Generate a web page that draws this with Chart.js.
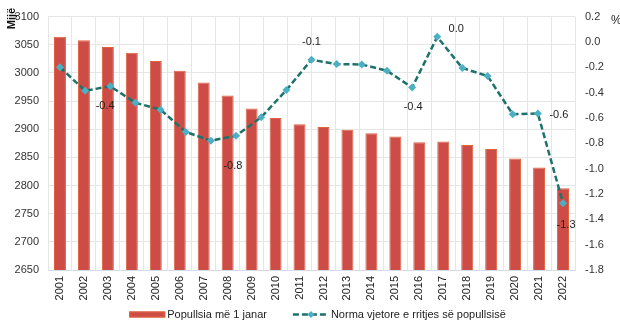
<!DOCTYPE html>
<html>
<head>
<meta charset="utf-8">
<script src="https://cdn.jsdelivr.net/npm/chart.js@4/dist/chart.umd.min.js"></script>
<style>
  html, body { margin: 0; padding: 0; background: #ffffff; }
  #wrap { width: 620px; height: 328px; }
</style>
</head>
<body>
<div id="wrap"><canvas id="c" width="620" height="328"></canvas></div>
<script>
// Population on 1 January (thousands), 2001–2022
const years = ['2001','2002','2003','2004','2005','2006','2007','2008','2009','2010','2011',
               '2012','2013','2014','2015','2016','2017','2018','2019','2020','2021','2022'];
const population = [3064, 3058, 3046, 3036, 3021, 3004, 2983, 2960, 2937, 2920, 2909,
                    2904, 2899, 2893, 2887, 2877, 2878, 2872, 2865, 2848, 2832, 2795];

// Annual growth rate of the population (%), 21 yearly changes
const growthRate = [-0.20, -0.385, -0.35, -0.48, -0.535, -0.71, -0.78, -0.74, -0.595, -0.38, -0.14,
                    -0.175, -0.178, -0.227, -0.36, 0.04, -0.206, -0.269, -0.57, -0.565, -1.273];

// Which growth points carry a value label
const labelledPoints = [1, 6, 10, 14, 15, 19, 20];

const leftTicks = { min: 2650, max: 3100, step: 50 };
const rightTicks = { min: -1.8, max: 0.2, step: 0.2 };

const barName = 'Popullsia më 1 janar';
const lineName = 'Norma vjetore e rritjes së popullsisë';

// label offsets from their point (px), in the same order as labelledPoints
const labelOffsets = [[20, 15], [22, 25], [0, -18], [1, 19], [19, -8], [21, 1], [3, 22]];

const FONT = '"Liberation Sans", Arial, sans-serif';
const BAR_FILL = '#cd4d46';
const BAR_EDGE = '#e3603f';
const LINE_COL = '#1d726b';
const MARK_COL = '#4cb0c5';
const GRID = '#e6e6e6';

// hidden linear x scale so the first and last growth points sit on the first and last bars
const n = growthRate.length;
const span = (n - 1) * population.length / (population.length - 1);
const edge = (span - (n - 1)) / 2;

const growthPoints = growthRate.map((v, i) => ({ x: i, y: v }));

const valueLabels = {
  id: 'valueLabels',
  afterDatasetsDraw(chart) {
    const meta = chart.getDatasetMeta(1);
    const ctx = chart.ctx;
    ctx.save();
    ctx.font = '11px ' + FONT;
    ctx.fillStyle = '#222222';
    ctx.textAlign = 'center';
    ctx.textBaseline = 'middle';
    labelledPoints.forEach((idx, k) => {
      const p = meta.data[idx];
      const [dx, dy] = labelOffsets[k];
      ctx.fillText(growthRate[idx].toFixed(1), p.x + dx, p.y + dy);
    });
    ctx.restore();
  }
};

const axisTitles = {
  id: 'axisTitles',
  afterDraw(chart) {
    const ctx = chart.ctx;
    ctx.save();
    ctx.fillStyle = '#111111';
    ctx.font = 'bold 11px ' + FONT;
    ctx.translate(11.5, 18.5);
    ctx.rotate(-Math.PI / 2);
    ctx.textAlign = 'center';
    ctx.textBaseline = 'middle';
    ctx.fillText('Mijë', 0, 0);
    ctx.restore();

    ctx.save();
    ctx.fillStyle = '#222222';
    ctx.font = '12px ' + FONT;
    ctx.textAlign = 'left';
    ctx.textBaseline = 'middle';
    ctx.fillText('%', chart.chartArea.right + 36, 21);
    ctx.restore();
  }
};

const bottomLegend = {
  id: 'bottomLegend',
  afterDraw(chart) {
    const ctx = chart.ctx;
    ctx.save();
    ctx.font = '11px ' + FONT;
    const w1 = ctx.measureText(barName).width;
    const w2 = ctx.measureText(lineName).width;
    const sw = 36, gap = 2, between = 26;
    const total = sw + gap + w1 + between + sw + gap + w2;
    const area = chart.chartArea;
    let x = (area.left + area.right) / 2 + 6 - total / 2;
    const y = 314.5;

    ctx.fillStyle = BAR_FILL;
    ctx.fillRect(x, y - 3, sw, 6);
    ctx.strokeStyle = BAR_EDGE;
    ctx.lineWidth = 1;
    ctx.strokeRect(x + 0.5, y - 2.5, sw - 1, 5);
    x += sw + gap;
    ctx.fillStyle = '#222222';
    ctx.textBaseline = 'middle';
    ctx.textAlign = 'left';
    ctx.fillText(barName, x, y);
    x += w1 + between;

    ctx.strokeStyle = LINE_COL;
    ctx.lineWidth = 2.5;
    ctx.setLineDash([6, 3]);
    ctx.beginPath();
    ctx.moveTo(x, y);
    ctx.lineTo(x + sw, y);
    ctx.stroke();
    ctx.setLineDash([]);
    const cx = x + sw / 2;
    ctx.fillStyle = MARK_COL;
    ctx.beginPath();
    ctx.moveTo(cx, y - 3.5);
    ctx.lineTo(cx + 3.5, y);
    ctx.lineTo(cx, y + 3.5);
    ctx.lineTo(cx - 3.5, y);
    ctx.closePath();
    ctx.fill();
    x += sw + gap;
    ctx.fillStyle = '#222222';
    ctx.fillText(lineName, x, y);
    ctx.restore();
  }
};

new Chart(document.getElementById('c'), {
  data: {
    labels: years,
    datasets: [
      {
        type: 'bar',
        label: barName,
        data: population,
        grouped: false,
        backgroundColor: BAR_FILL,
        borderColor: BAR_EDGE,
        borderWidth: 1,
        barPercentage: 0.5,
        categoryPercentage: 1,
        xAxisID: 'x',
        yAxisID: 'y',
        order: 2
      },
      {
        type: 'line',
        label: lineName,
        data: growthPoints,
        borderColor: LINE_COL,
        borderWidth: 2.5,
        borderDash: [6, 3],
        pointStyle: 'rectRot',
        pointRadius: 4,
        pointBackgroundColor: MARK_COL,
        pointBorderColor: MARK_COL,
        pointBorderWidth: 0,
        tension: 0,
        xAxisID: 'xl',
        yAxisID: 'y2',
        order: 1
      }
    ]
  },
  options: {
    responsive: false,
    animation: false,
    devicePixelRatio: 1,
    layout: { padding: { top: 13, left: 0, right: 0, bottom: 0 } },
    plugins: { legend: { display: false }, tooltip: { enabled: false } },
    scales: {
      x: {
        type: 'category',
        position: 'bottom',
        offset: true,
        grid: { display: true, color: GRID, offset: true, drawTicks: false },
        border: { display: true, color: '#d6dce6' },
        ticks: { minRotation: 90, maxRotation: 90, padding: 6, color: '#222222',
                 font: { family: FONT, size: 11 }, autoSkip: false },
        afterFit(s) { s.height = 58; }
      },
      xl: {
        type: 'linear',
        display: false,
        min: -edge,
        max: (n - 1) + edge
      },
      y: {
        position: 'left',
        min: leftTicks.min,
        max: leftTicks.max,
        grid: { color: GRID, drawTicks: false },
        border: { display: false },
        ticks: { stepSize: leftTicks.step, padding: 9, color: '#333333',
                 font: { family: FONT, size: 11 },
                 callback: v => String(v) },
        afterFit(s) { s.width = 48; }
      },
      y2: {
        position: 'right',
        min: rightTicks.min,
        max: rightTicks.max,
        grid: { drawOnChartArea: false, drawTicks: false },
        border: { display: false },
        ticks: { stepSize: rightTicks.step, padding: 10, color: '#333333',
                 font: { family: FONT, size: 11 },
                 callback: v => v.toFixed(1) },
        afterFit(s) { s.width = 45; }
      }
    }
  },
  plugins: [valueLabels, axisTitles, bottomLegend]
});
</script>
</body>
</html>
